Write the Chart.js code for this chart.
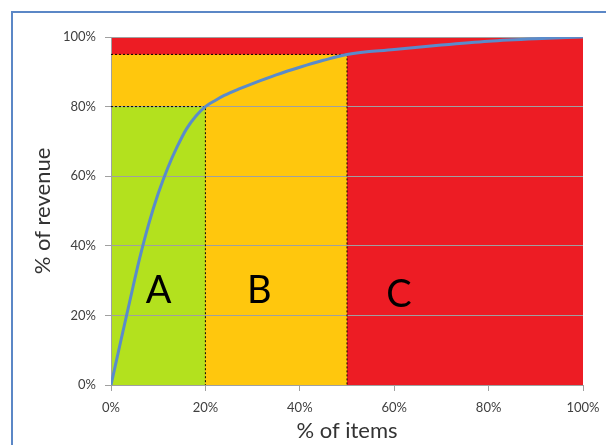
<!DOCTYPE html>
<html>
<head>
<meta charset="utf-8">
<title>ABC analysis</title>
<script src="https://cdn.jsdelivr.net/npm/chart.js@4.4.1/dist/chart.umd.min.js"></script>
<style>
  html, body { margin: 0; padding: 0; background: #fff; }
  #wrap { position: relative; width: 606px; height: 445px; overflow: hidden; }
  #frame { position: absolute; left: 11px; top: 11px; width: 700px; height: 600px;
           border-top: 2px solid #5b87c6; border-left: 2px solid #5b87c6; box-sizing: border-box; }
  canvas { position: absolute; left: 0; top: 0; }
</style>
</head>
<body>
<div id="wrap">
  <div id="frame"></div>
  <canvas id="c" width="606" height="445"></canvas>
</div>
<script>
// Cumulative share of revenue against cumulative share of items
const itemsPct   = [0, 2, 4, 6, 8, 10, 12, 14, 16, 18, 20, 22, 24, 27, 30, 35, 40, 45, 50, 60, 70, 80, 90, 100];
const revenuePct = [0, 12.2, 24.2, 36, 46.3, 55, 62.3, 68.4, 73.6, 77.3, 80, 81.7, 83.2, 85.0, 86.6, 89.1, 91.3, 93.3, 95, 96.4, 97.7, 98.8, 99.5, 100];

// Class boundaries (outline of each shaded zone)
const zoneAX = [0, 20, 20];
const zoneAY = [80, 80, 0];
const zoneBX = [0, 50, 50];
const zoneBY = [95, 95, 0];
const zoneCX = [0, 100];
const zoneCY = [100, 100];

// Class letters and where they sit
const classNames = ['A', 'B', 'C'];
const classX = [10.1, 31.4, 61.0];
const classY = [27.1, 27.1, 25.9];

const tickValues = [0, 20, 40, 60, 80, 100];

const toPoints = (xs, ys) => xs.map((x, i) => ({ x: x, y: ys[i] }));

const classLabels = {
  id: 'classLabels',
  afterDatasetsDraw(chart) {
    const { ctx, scales } = chart;
    ctx.save();
    ctx.fillStyle = '#000';
    ctx.font = '38px Lato, "Open Sans", sans-serif';
    ctx.textAlign = 'center';
    ctx.textBaseline = 'middle';
    classNames.forEach((name, i) => {
      ctx.fillText(name, scales.x.getPixelForValue(classX[i]), scales.y.getPixelForValue(classY[i]));
    });
    ctx.restore();
  }
};

const dotted = { borderColor: '#000', borderWidth: 1, borderDash: [2, 2] };

new Chart(document.getElementById('c'), {
  type: 'line',
  data: {
    datasets: [
      { label: 'Cumulative revenue', data: toPoints(itemsPct, revenuePct),
        borderColor: '#5a8bcb', borderWidth: 3, fill: false, pointRadius: 0,
        cubicInterpolationMode: 'monotone' },
      Object.assign({ label: 'A', data: toPoints(zoneAX, zoneAY), backgroundColor: '#b3e11e',
        fill: 'origin', pointRadius: 0, tension: 0 }, dotted),
      Object.assign({ label: 'B', data: toPoints(zoneBX, zoneBY), backgroundColor: '#ffc70d',
        fill: 'origin', pointRadius: 0, tension: 0 }, dotted),
      { label: 'C', data: toPoints(zoneCX, zoneCY), backgroundColor: '#ed1c24',
        borderWidth: 0, borderColor: 'rgba(0,0,0,0)', fill: 'origin', pointRadius: 0, tension: 0 }
    ]
  },
  options: {
    responsive: false,
    animation: false,
    layout: { padding: { left: 25, right: 23, top: 37, bottom: 0 } },
    plugins: {
      legend: { display: false },
      tooltip: { enabled: false },
      filler: { drawTime: 'beforeDraw' }
    },
    scales: {
      x: {
        type: 'linear', min: 0, max: 100,
        afterBuildTicks: s => { s.ticks = tickValues.map(v => ({ value: v })); },
        afterFit: s => { s.height = 60; s.paddingRight = 0; s.paddingLeft = 0; },
        grid: { drawOnChartArea: false, color: '#a0a0a0', tickLength: 6 },
        border: { color: '#a0a0a0' },
        ticks: { padding: 9, color: '#404040', font: { family: 'Lato, "Open Sans", sans-serif', size: 13 },
                 callback: v => v + '%', maxRotation: 0 },
        title: { display: true, text: '% of items', color: '#333',
                 font: { family: 'Lato, "Open Sans", sans-serif', size: 22 }, padding: { top: 0, bottom: 1 } }
      },
      y: {
        type: 'linear', min: 0, max: 100,
        afterBuildTicks: s => { s.ticks = tickValues.map(v => ({ value: v })); },
        afterFit: s => { s.width = 86; },
        grid: { color: '#a0a0a0', tickLength: 6 },
        border: { color: '#a0a0a0' },
        ticks: { padding: 9, color: '#404040', font: { family: 'Lato, "Open Sans", sans-serif', size: 13 },
                 callback: v => v + '%' },
        title: { display: true, text: '% of revenue', color: '#333',
                 font: { family: 'Lato, "Open Sans", sans-serif', size: 22 }, padding: { top: 5, bottom: 0 } }
      }
    }
  },
  plugins: [classLabels]
});
</script>
</body>
</html>
